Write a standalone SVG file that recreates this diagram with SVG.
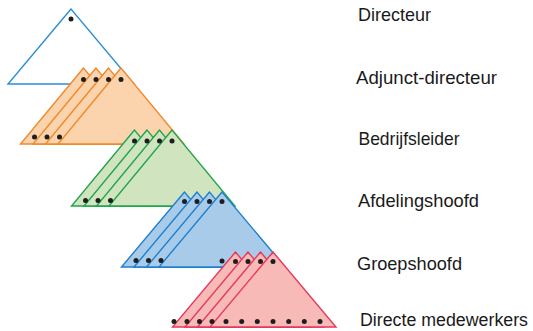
<svg xmlns="http://www.w3.org/2000/svg" width="533" height="331" viewBox="0 0 533 331">
<style>
  .t { stroke-width: 1.4; stroke-linejoin: miter; }
  .l0 { fill: #ffffff; stroke: #2a8ed6; }
  .l1 { fill: #fbd3ad; stroke: #f0892b; }
  .l2 { fill: #cfe4bf; stroke: #22a54b; }
  .l3 { fill: #a9cbea; stroke: #1f80cf; }
  .l4 { fill: #f7bab6; stroke: #e8375d; }
  .d { fill: #1e1e1e; }
  .lbl { font-family: "Liberation Sans", Arial, sans-serif; font-size: 19px; fill: #1a1a1a; }
</style>

<g id="directeur">
  <path class="t l0" d="M71,9 L8,84 L134,84 Z"/>
  <circle class="d" cx="71" cy="19" r="2.5"/>
</g>

<g id="adjunct-directeur">
  <path class="t l1" d="M83.5,68 L20.5,144 L146.5,144 Z"/>
  <path class="t l1" d="M96,68 L33,144 L159,144 Z"/>
  <path class="t l1" d="M108.5,68 L45.5,144 L171.5,144 Z"/>
  <path class="t l1" d="M121,68 L58,144 L184,144 Z"/>
  <circle class="d" cx="83.5" cy="79.5" r="2.5"/>
  <circle class="d" cx="96" cy="79.5" r="2.5"/>
  <circle class="d" cx="108.5" cy="79.5" r="2.5"/>
  <circle class="d" cx="121" cy="79.5" r="2.5"/>
  <circle class="d" cx="34.5" cy="137" r="2.5"/>
  <circle class="d" cx="47" cy="137" r="2.5"/>
  <circle class="d" cx="59.5" cy="137" r="2.5"/>
</g>

<g id="bedrijfsleider">
  <path class="t l2" d="M134.5,130 L71.5,206 L197.5,206 Z"/>
  <path class="t l2" d="M147,130 L84,206 L210,206 Z"/>
  <path class="t l2" d="M159.5,130 L96.5,206 L222.5,206 Z"/>
  <path class="t l2" d="M172,130 L109,206 L235,206 Z"/>
  <circle class="d" cx="134.5" cy="141" r="2.5"/>
  <circle class="d" cx="147" cy="141" r="2.5"/>
  <circle class="d" cx="159.5" cy="141" r="2.5"/>
  <circle class="d" cx="172" cy="141" r="2.5"/>
  <circle class="d" cx="85.5" cy="200.5" r="2.5"/>
  <circle class="d" cx="98" cy="200.5" r="2.5"/>
  <circle class="d" cx="110.5" cy="200.5" r="2.5"/>
</g>

<g id="afdelingshoofd">
  <path class="t l3" d="M184.5,192 L121.5,267 L247.5,267 Z"/>
  <path class="t l3" d="M197,192 L134,267 L260,267 Z"/>
  <path class="t l3" d="M209.5,192 L146.5,267 L272.5,267 Z"/>
  <path class="t l3" d="M222,192 L159,267 L285,267 Z"/>
  <circle class="d" cx="184.5" cy="201.5" r="2.5"/>
  <circle class="d" cx="197" cy="201.5" r="2.5"/>
  <circle class="d" cx="209.5" cy="201.5" r="2.5"/>
  <circle class="d" cx="222" cy="201.5" r="2.5"/>
  <circle class="d" cx="136" cy="260.5" r="2.5"/>
  <circle class="d" cx="148.5" cy="260.5" r="2.5"/>
  <circle class="d" cx="161" cy="260.5" r="2.5"/>
  <circle class="d" cx="222" cy="261" r="2.5"/>
</g>

<g id="groepshoofd">
  <path class="t l4" d="M235.5,252 L172.5,327 L298.5,327 Z"/>
  <path class="t l4" d="M248,252 L185,327 L311,327 Z"/>
  <path class="t l4" d="M260.5,252 L197.5,327 L323.5,327 Z"/>
  <path class="t l4" d="M273,252 L210,327 L336,327 Z"/>
  <circle class="d" cx="235.5" cy="261.5" r="2.5"/>
  <circle class="d" cx="248" cy="261.5" r="2.5"/>
  <circle class="d" cx="260.5" cy="261.5" r="2.5"/>
  <circle class="d" cx="273" cy="261.5" r="2.5"/>
  <circle class="d" cx="174" cy="321.5" r="2.5"/>
  <circle class="d" cx="187" cy="321.5" r="2.5"/>
  <circle class="d" cx="199.5" cy="321.5" r="2.5"/>
  <circle class="d" cx="212" cy="321.5" r="2.5"/>
  <circle class="d" cx="226" cy="321.5" r="2.5"/>
  <circle class="d" cx="241.7" cy="321.5" r="2.5"/>
  <circle class="d" cx="257.3" cy="321.5" r="2.5"/>
  <circle class="d" cx="273" cy="321.5" r="2.5"/>
  <circle class="d" cx="288.7" cy="321.5" r="2.5"/>
  <circle class="d" cx="304.3" cy="321.5" r="2.5"/>
  <circle class="d" cx="320" cy="321.5" r="2.5"/>
</g>

<g id="labels">
  <text class="lbl" x="358" y="21" textLength="73" lengthAdjust="spacingAndGlyphs">Directeur</text>
  <text class="lbl" x="356" y="84" textLength="141" lengthAdjust="spacingAndGlyphs">Adjunct-directeur</text>
  <text class="lbl" x="358.5" y="145" textLength="101" lengthAdjust="spacingAndGlyphs">Bedrijfsleider</text>
  <text class="lbl" x="358" y="207" textLength="121" lengthAdjust="spacingAndGlyphs">Afdelingshoofd</text>
  <text class="lbl" x="357" y="270" textLength="105" lengthAdjust="spacingAndGlyphs">Groepshoofd</text>
  <text class="lbl" x="360" y="325.5" textLength="168" lengthAdjust="spacingAndGlyphs" style="font-size:18px">Directe medewerkers</text>
</g>
</svg>
